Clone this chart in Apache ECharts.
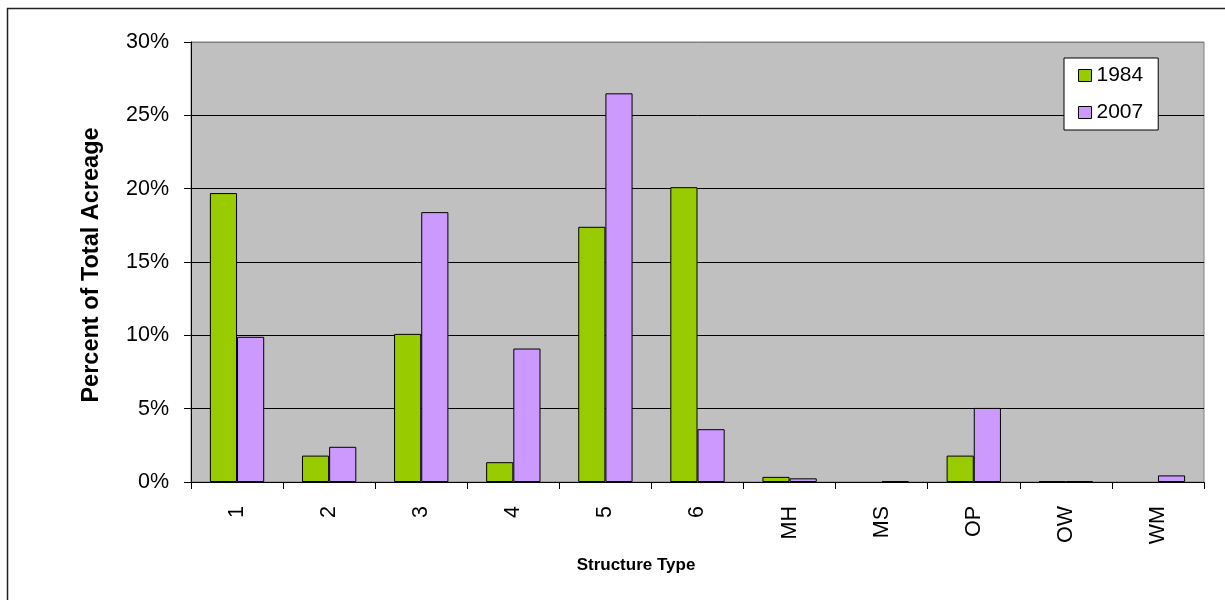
<!DOCTYPE html>
<html>
<head>
<meta charset="utf-8">
<script src="https://cdn.jsdelivr.net/npm/echarts@6/dist/echarts.min.js"></script>
<style>
html,body{margin:0;padding:0;background:#fff;}
#chart{width:1225px;height:600px;}
</style>
</head>
<body>
<div id="chart"></div>
<script>
var categories = ['1','2','3','4','5','6','MH','MS','OP','OW','WM'];
var values1984 = [19.7, 1.8, 10.1, 1.35, 17.4, 20.1, 0.35, 0, 1.8, 0.05, 0];
var values2007 = [9.9, 2.4, 18.4, 9.1, 26.5, 3.6, 0.25, 0.05, 5.05, 0.05, 0.45];
var yTicks = [0, 5, 10, 15, 20, 25, 30];
var seriesNames = ['1984', '2007'];

var FONT = 'Arial, "Liberation Sans", sans-serif';

function toItems(arr) {
  return arr.map(function (v) {
    return v === 0 ? { value: v, itemStyle: { borderWidth: 0 } } : v;
  });
}

var chart = echarts.init(document.getElementById('chart'));
chart.setOption({
  backgroundColor: '#fff',
  animation: false,
  grid: {
    left: 191, top: 42, right: 21, bottom: 118,
    show: true, backgroundColor: '#C0C0C0',
    borderColor: '#808080', borderWidth: 1
  },
  legend: {
    orient: 'vertical',
    left: 1064, top: 58,
    padding: [7, 15, 7, 14],
    backgroundColor: '#fff',
    borderColor: '#000', borderWidth: 1,
    itemWidth: 13, itemHeight: 12, itemGap: 16,
    icon: 'rect',
    textStyle: { fontFamily: FONT, fontSize: 21, color: '#000', lineHeight: 21 },
    data: [
      { name: seriesNames[0], itemStyle: { color: '#99CC00', borderColor: '#000', borderWidth: 1 } },
      { name: seriesNames[1], itemStyle: { color: '#CC99FF', borderColor: '#000', borderWidth: 1 } }
    ]
  },
  xAxis: {
    type: 'category',
    data: categories,
    axisLine: { lineStyle: { color: '#000', width: 1 } },
    axisTick: { show: true, length: 7, lineStyle: { color: '#000' } },
    axisLabel: { rotate: 90, margin: 24, fontFamily: FONT, fontSize: 21.5, color: '#000' }
  },
  yAxis: {
    type: 'value',
    min: 0, max: 30, interval: 5,
    axisLine: { show: true, lineStyle: { color: '#000', width: 1 } },
    axisTick: { show: true, length: 7, lineStyle: { color: '#000' } },
    axisLabel: {
      margin: 22, fontFamily: FONT, fontSize: 21.5, color: '#000',
      formatter: function (v) { return yTicks.indexOf(v) >= 0 ? v + '%' : ''; }
    },
    splitLine: { show: true, lineStyle: { color: ['#000','#000','#000','#000','#000','#000','#808080'], width: 1 } }
  },
  series: [
    {
      name: seriesNames[0], type: 'bar', data: toItems(values1984),
      barGap: '0%', barCategoryGap: '41%',
      itemStyle: { color: '#99CC00', borderColor: '#000', borderWidth: 1 }
    },
    {
      name: seriesNames[1], type: 'bar', data: toItems(values2007),
      barGap: '0%', barCategoryGap: '41%',
      itemStyle: { color: '#CC99FF', borderColor: '#000', borderWidth: 1 }
    }
  ],
  graphic: [
    {
      type: 'rect', silent: true, z: 100,
      shape: { x: 7.5, y: 8.5, width: 1400, height: 800 },
      style: { fill: 'none', stroke: '#222', lineWidth: 1.5 }
    },
    {
      type: 'text', x: 636, y: 565,
      style: { text: 'Structure Type', fontFamily: FONT, fontSize: 17, fontWeight: 'bold', fill: '#000', align: 'center', verticalAlign: 'middle' }
    },
    {
      type: 'text', x: 92, y: 265, rotation: Math.PI / 2,
      style: { text: 'Percent of Total Acreage', fontFamily: FONT, fontSize: 23.5, fontWeight: 'bold', fill: '#000', align: 'center', verticalAlign: 'middle' }
    }
  ]
});
</script>
</body>
</html>
